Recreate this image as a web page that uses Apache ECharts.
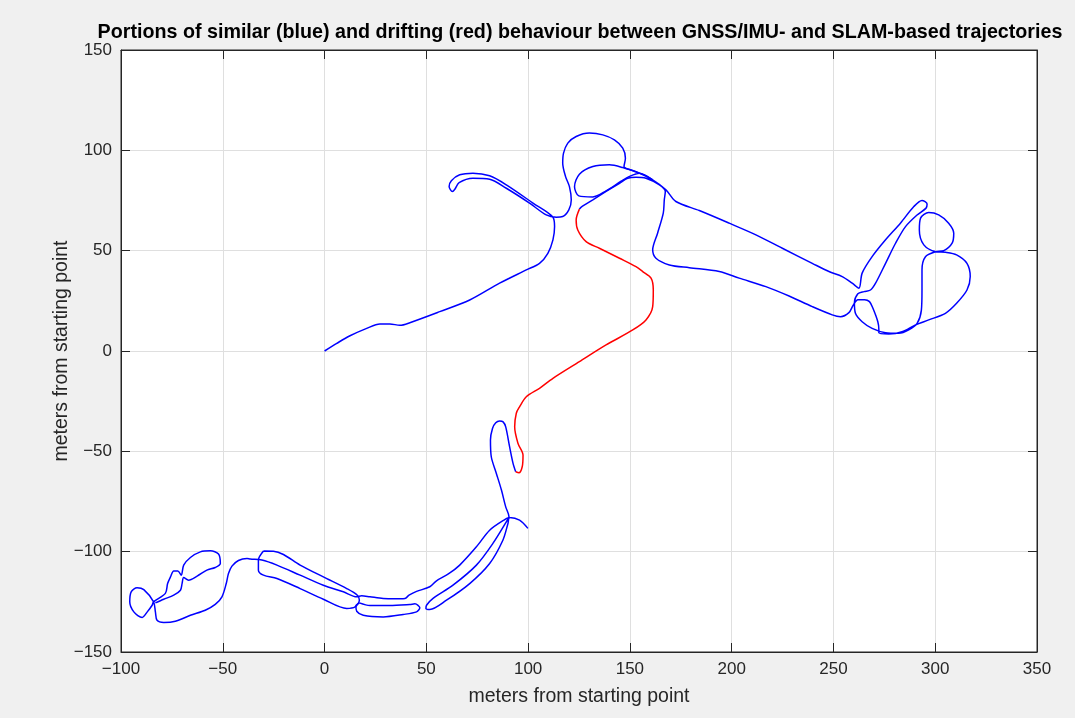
<!DOCTYPE html>
<html>
<head>
<meta charset="utf-8">
<script src="https://cdn.jsdelivr.net/npm/echarts@6/dist/echarts.min.js"></script>
<style>
html,body{margin:0;padding:0;background:#f0f0f0;}
#c{width:1075px;height:718px;}
</style>
</head>
<body>
<div id="c"></div>
<script>
// ---- data (meters from starting point) ----
var titleText = 'Portions of similar (blue) and drifting (red) behaviour between GNSS/IMU- and SLAM-based trajectories';
var axisLabelText = 'meters from starting point';
var xTicks = [-100, -50, 0, 50, 100, 150, 200, 250, 300, 350];
var yTicks = [-150, -100, -50, 0, 50, 100, 150];

// blue: start, hook, big loop, upper route, east cluster, lower route back
var blueNorth = [
[0,0],[6,3.8],[12.5,7.6],[20.7,11.3],[27.2,13.5],[32.1,13.5],[37,12.8],[41.9,14.1],[56.6,19.6],[71.3,25.4],[86,33.8],[99.1,40.4],[105.6,43.7],[109.7,48.7],[112.2,55.4],[113,62],[112.2,66.7],
[102.4,73.7],[89.3,82.8],[81.1,87.3],[72.9,88.6],[66.4,87.8],[62.3,84.9],[61.2,82],[62.8,79.5],[64,80.6],[66.1,83.9],[72.9,86.1],[81.1,85.6],[89.3,81.1],[100.7,73.7],[108.9,67.8],[113.8,66.7],
[117,67],[120,70.3],[121.2,75.3],[120.3,81.9],[118.4,86.9],[117,93.6],[117.4,98.6],[119.5,103.6],[123.6,106.9],[130.1,108.6],[136.7,107.7],[142.4,105.2],[146.5,101.1],[147.8,96.1],[147.1,91.9],[153,89.4],[161.2,85.3],[167.7,80.3],[172.6,74.5],[184.1,70],[198.8,63.7],[211.9,57.9],[224.9,51.2],[239.6,43.7],[247.8,39.6],[254.3,37.1],[259.2,33.8],[262.5,31.3],
[264.1,38.8],[269,47],[275.6,55.4],[282.9,63.7],[289.5,72],[293.5,75],[296,73.3],[295.5,71.2],[291.1,67.8],[285.4,62],[280.5,53.7],[275.6,43.7],[270.7,33.8],[268.2,30.4],[265,29.6],[262,28.5],
[260.3,24],[260.8,18.8],[264.1,14.6],[269,11.3],[275.6,9.1],[282.1,8.8],[287,10.5],[291.1,13.8],[293.2,20.4],[293.5,30.4],[293.5,40.4],[295.2,47],[300.3,49.5],
[304.2,50],[308.3,53.7],[309.1,58.7],[306.6,63.7],[301.7,67.8],[296.8,69],[292.8,66.2],[292.2,60.3],[294.4,52.9],[300.3,49.5],
[305,49.2],[310.5,47.9],[315.6,43.7],[317.2,37.1],[315.6,30.4],[310.5,23.8],[305,18.8],[296.8,15.5],[290.3,13],[283.7,9.6],[277.2,8.5],[272.3,9.1],[272.3,10.8],[271.8,14.6],[269.4,21.3],[267.7,24.6],[265.3,25.6],[262,25.5],[259.8,23],[257.6,19.1],
[253.5,17.1],[249.4,18],[239.6,22.1],[228.2,27.4],[216.8,32.1],[203.7,36.3],[193.9,39.6],[179.2,41.5],[169.4,42.9],[162.8,46.2],[161.2,50.4],[163.6,58.7],[166.4,68.7],[166.9,75.3],[167.4,79.5],[164.5,82.8],[157.9,86.1],[153,86.6],[148.9,86.1],[144.9,83.6],[138.3,79.5],[131.8,75.3],[126.1,71.7],[125.2,70.7]
];
var blueSmallLoop = [
[154.7,88.6],[146.5,91.4],[139.9,92.8],[131.8,91.9],[125.2,88.1],[122.8,81.9],[124.9,77.3],[131.8,76.8],[138.3,79.8],[145.7,84.6],[149.8,87],[154.7,88.6],[161.2,85.3]
];
// red: drifting portion
var redDrift = [
[125.2,70.7],[123.6,65.3],[124.4,60.3],[128.5,54.5],[135,51.2],[144.9,46.2],[153,42],[156.3,39.6],[160.4,36.3],[161.5,30.4],[161.2,22.1],[157.9,15.5],[151.4,10.5],[138.3,3],[125.2,-5.3],[112.2,-13.6],[105.6,-18.6],[99.1,-22.8],[95.8,-27.8],[94.2,-31],[93.4,-37.8],[95,-46],[97.5,-51.9],[97.1,-57.7],[95.5,-60.7],[93.9,-60.2]
];
// blue: southern part
var blueSouth = [
[93.9,-60.2],[92.6,-56],[90.9,-47.7],[89,-37.8],[87.7,-35.3],[86,-34.9],[84.1,-35.8],[82.5,-38.6],[81.5,-44.4],[81.9,-52.7],[84.4,-61],[86.9,-69.3],[89,-77.7],[90.6,-82.6],[89.3,-85.1],[82.7,-95.9],[74.6,-106.7],[63.1,-116.7],[53.3,-123.3],[50.1,-126.7],[49.8,-128.3],[51.7,-128.8],[59.9,-124.2],[71.3,-115.9],[81.1,-105.9],[87.6,-94.3],[90.1,-86],[90.9,-83],[95.8,-84.3],[99.9,-88.4]
];
var blueWest = [
[90.9,-83],[88.5,-84],[81.1,-89.3],[74.6,-97.6],[66.4,-106.7],[61,-111],[55,-114.5],[51.7,-117.5],[45.2,-119.8],[41.5,-121.7],[39.5,-123.3],[34,-123.5],[28.8,-123.3],[22.3,-122.5],[18.2,-122],[15.8,-122.5],[9.2,-120],[-0.6,-116.7],[-12,-111.7],[-23.4,-106.7],[-30.8,-104.2],[-36.5,-103.7],[-38.1,-103.4],[-42.3,-104.4],[-45.5,-107.2],[-47.2,-110.9],[-48.3,-115.9],[-50.4,-122.5],[-53.7,-126.3],[-58.6,-129.2],[-65.9,-131.7],[-73.3,-134.7],[-79,-135.3],[-82.3,-134.2],[-83.1,-130],[-84,-125],
[-88.8,-118.9],[-92.1,-118],[-95,-120],[-95.7,-125],[-93.7,-130],[-89.6,-132.8],[-87.1,-130],[-84.7,-126.7],[-84,-125],
[-78.2,-120.8],[-77.1,-115.9],[-75.7,-112.6],[-74.1,-109.6],[-72.1,-109.6],[-70.4,-111.7],[-69.2,-106.7],[-65.9,-102.9],[-61,-100.1],[-56.1,-99.6],[-52.1,-101.2],[-51.2,-105.9],[-53.7,-107.9],[-57.8,-109.2],[-62.6,-112.2],[-66.8,-114.2],[-69.2,-112.9],[-70,-115.9],[-70.8,-119.2],[-74.1,-121.7],[-79,-123.7],[-83.1,-125.5]
];
var blueLongLoop = [
[-30,-99.7],[-25.1,-99.8],[-20.2,-101.4],[-12,-106.7],[-0.6,-112.6],[10.9,-118.4],[16.1,-121.7],[17.1,-124.2],[15,-127.5],[10.9,-128.3],[-0.6,-123.7],[-12,-118.4],[-23.4,-113.4],[-30,-111.7],[-32.5,-109.2],[-32.5,-104.2],[-30,-99.7]
];
var blueClump = [
[17.1,-125.5],[22.3,-126.8],[32,-126.8],[41.9,-126.3],[44.4,-126],[46.8,-128],[45.2,-130],[38.6,-131.3],[28.8,-132.5],[19,-131.7],[15.8,-129.7],[15.4,-127],[17.1,-125.5]
];

var BLUE = '#0000ff', RED = '#ff0000', INK = '#262626';
var FONT = '"Liberation Sans", Arial, Helvetica, sans-serif';
function fmt(v){ return String(v).replace('-', '\u2212'); }

function mkSeries(data, color){
  return {type:'line', data:data, symbol:'none', showSymbol:false, smooth:0.3, clip:true,
    lineStyle:{color:color, width:1.5}, itemStyle:{color:color}, silent:true, animation:false, z:3};
}

var chart = echarts.init(document.getElementById('c'), null, {renderer:'canvas'});
var xMin = xTicks[0], xMax = xTicks[xTicks.length-1], yMin = yTicks[0], yMax = yTicks[yTicks.length-1];
var step = 50;
chart.setOption({
  backgroundColor:'#f0f0f0',
  animation:false,
  graphic:[{type:'text', x:580, y:33, z:10,
    style:{text:titleText, font:'bold 19.7px ' + FONT, fill:'#000', textAlign:'center', textVerticalAlign:'middle', align:'center', verticalAlign:'middle'}}],
  grid:{left:121, right:38, top:50, bottom:66, show:true, backgroundColor:'#ffffff', borderColor:INK, borderWidth:1},
  xAxis:[
    {type:'value', min:xMin, max:xMax, interval:step, position:'bottom',
     name:axisLabelText, nameLocation:'middle', nameGap:35, nameMoveOverlap:false,
     nameTextStyle:{color:INK, fontSize:19.5, fontFamily:FONT},
     axisLine:{show:true, onZero:false, lineStyle:{color:INK, width:1}},
     axisTick:{show:true, inside:true, length:9, lineStyle:{color:INK}},
     axisLabel:{show:true, color:INK, fontSize:17, fontFamily:FONT, margin:9, formatter:fmt},
     splitLine:{show:true, lineStyle:{color:'#dfdfdf', width:1}}},
    {type:'value', min:xMin, max:xMax, interval:step, position:'top',
     axisLine:{show:true, onZero:false, lineStyle:{color:INK, width:1}},
     axisTick:{show:true, inside:true, length:9, lineStyle:{color:INK}},
     axisLabel:{show:false}, splitLine:{show:false}}
  ],
  yAxis:[
    {type:'value', min:yMin, max:yMax, interval:step, position:'left',
     name:axisLabelText, nameLocation:'middle', nameGap:49, nameRotate:90, nameMoveOverlap:false,
     nameTextStyle:{color:INK, fontSize:19.5, fontFamily:FONT},
     axisLine:{show:true, onZero:false, lineStyle:{color:INK, width:1}},
     axisTick:{show:true, inside:true, length:9, lineStyle:{color:INK}},
     axisLabel:{show:true, color:INK, fontSize:17, fontFamily:FONT, margin:9, formatter:fmt},
     splitLine:{show:true, lineStyle:{color:'#dfdfdf', width:1}}},
    {type:'value', min:yMin, max:yMax, interval:step, position:'right',
     axisLine:{show:true, onZero:false, lineStyle:{color:INK, width:1}},
     axisTick:{show:true, inside:true, length:9, lineStyle:{color:INK}},
     axisLabel:{show:false}, splitLine:{show:false}}
  ],
  series:[
    mkSeries(blueNorth, BLUE),
    mkSeries(blueSmallLoop, BLUE),
    mkSeries(blueSouth, BLUE),
    mkSeries(blueWest, BLUE),
    mkSeries(blueLongLoop, BLUE),
    mkSeries(blueClump, BLUE),
    mkSeries(redDrift, RED)
  ]
});
</script>
</body>
</html>
